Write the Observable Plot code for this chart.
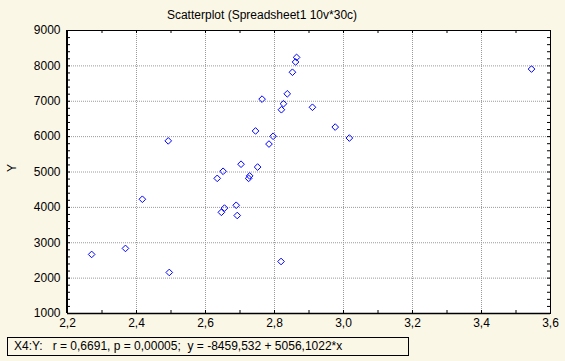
<!DOCTYPE html>
<html><head><meta charset="utf-8">
<script src="https://cdn.jsdelivr.net/npm/d3@7"></script>
<script src="https://cdn.jsdelivr.net/npm/@observablehq/plot@0.6"></script>
<style>
html,body{margin:0;padding:0;background:#fbf7e7;}
#wrap{position:relative;width:565px;height:361px;font-family:"Liberation Sans",Arial,sans-serif;font-size:12px;color:#000;}
#title{position:absolute;top:8px;left:0;width:524px;text-align:center;line-height:14px;}
#legend{position:absolute;left:7px;top:337px;width:402px;height:19px;box-sizing:border-box;border:1px solid #000;line-height:17px;padding-left:6px;white-space:pre;}
#chart{position:absolute;left:0;top:0;}
</style>
</head><body>
<div id="wrap">
  <div id="chart"></div>
  <div id="title">Scatterplot (Spreadsheet1 10v*30c)</div>
  <div id="legend">X4:Y:   r = 0,6691, p = 0,00005;  y = -8459,532 + 5056,1022*x</div>
</div>
<script>
const xValues = [2.270, 2.368, 2.417, 2.495, 2.492, 2.703, 2.751, 2.651, 2.634, 2.728,
                 2.725, 2.689, 2.655, 2.646, 2.692, 2.819, 2.864, 2.861, 2.852, 2.837,
                 2.764, 2.826, 2.820, 2.910, 2.976, 2.745, 2.796, 3.017, 2.784, 3.545];
const yValues = [2670, 2840, 4230, 2160, 5880, 5220, 5140, 5020, 4820, 4890,
                 4820, 4060, 3980, 3860, 3770, 2470, 8240, 8110, 7820, 7210,
                 7060, 6930, 6760, 6830, 6270, 6160, 6010, 5960, 5790, 7910];
const xTicks = [2.2, 2.4, 2.6, 2.8, 3.0, 3.2, 3.4, 3.6];
const yTicks = [1000, 2000, 3000, 4000, 5000, 6000, 7000, 8000, 9000];
const xMinor = [2.3, 2.4, 2.5, 2.6, 2.7, 2.8, 2.9, 3.0, 3.1, 3.2, 3.3, 3.4, 3.5];
const yMinor = d3.range(1200, 9000, 200);
const yLabel = "Y";

const data = xValues.map((x, i) => ({x, y: yValues[i]}));
const inner = xTicks.slice(1, -1);
const innerY = yTicks.slice(1, -1);

const W = 565, H = 361, ML = 67, MT = 30, MR = 15, MB = 48;
const fw = W - ML - MR, fh = H - MT - MB;

const chart = Plot.plot({
  width: W, height: H,
  marginLeft: ML, marginTop: MT, marginRight: MR, marginBottom: MB,
  style: {background: "transparent", fontFamily: '"Liberation Sans", Arial, sans-serif', fontSize: "12px", color: "#000"},
  x: {domain: [xTicks[0], xTicks[xTicks.length - 1]]},
  y: {domain: [yTicks[0], yTicks[yTicks.length - 1]]},
  marks: [
    Plot.frame({fill: "white", stroke: null}),
    Plot.gridX(inner, {stroke: "#9a9a9a", strokeOpacity: 1, strokeDasharray: "1,1"}),
    Plot.gridY(innerY, {stroke: "#9a9a9a", strokeOpacity: 1, strokeDasharray: "1,1"}),
    Plot.tickY(yMinor, {y: d => d, insetRight: fw - 3, stroke: "#000"}),
    Plot.tickY(yMinor, {y: d => d, insetLeft: fw - 3, stroke: "#000"}),
    Plot.tickX(xMinor, {x: d => d, insetBottom: fh - 3, stroke: "#000"}),
    Plot.tickX(xMinor, {x: d => d, insetTop: fh - 3, stroke: "#000"}),
    Plot.axisX({ticks: xTicks, tickSize: 0, tickPadding: 5, tickFormat: d => d.toFixed(1).replace(".", ","), label: null}),
    Plot.axisY({ticks: yTicks, tickSize: 0, tickPadding: 7, tickFormat: d => String(d), label: null}),
    Plot.text([yLabel], {frameAnchor: "left", dx: -55, rotate: -90, text: d => d, fontSize: 12}),
    Plot.dot(data, {x: "x", y: "y", symbol: "diamond2", r: 3, stroke: "#0000ff", strokeWidth: 1, fill: "none"}),
    Plot.frame({stroke: "#000", strokeWidth: 1}),
    Plot.ruleX([xTicks[0]], {stroke: "#000", strokeWidth: 2, dx: -0.5}),
    Plot.ruleY([yTicks[0]], {stroke: "#000", strokeWidth: 1.5})
  ]
});
document.getElementById("chart").appendChild(chart);
</script>
</body></html>
